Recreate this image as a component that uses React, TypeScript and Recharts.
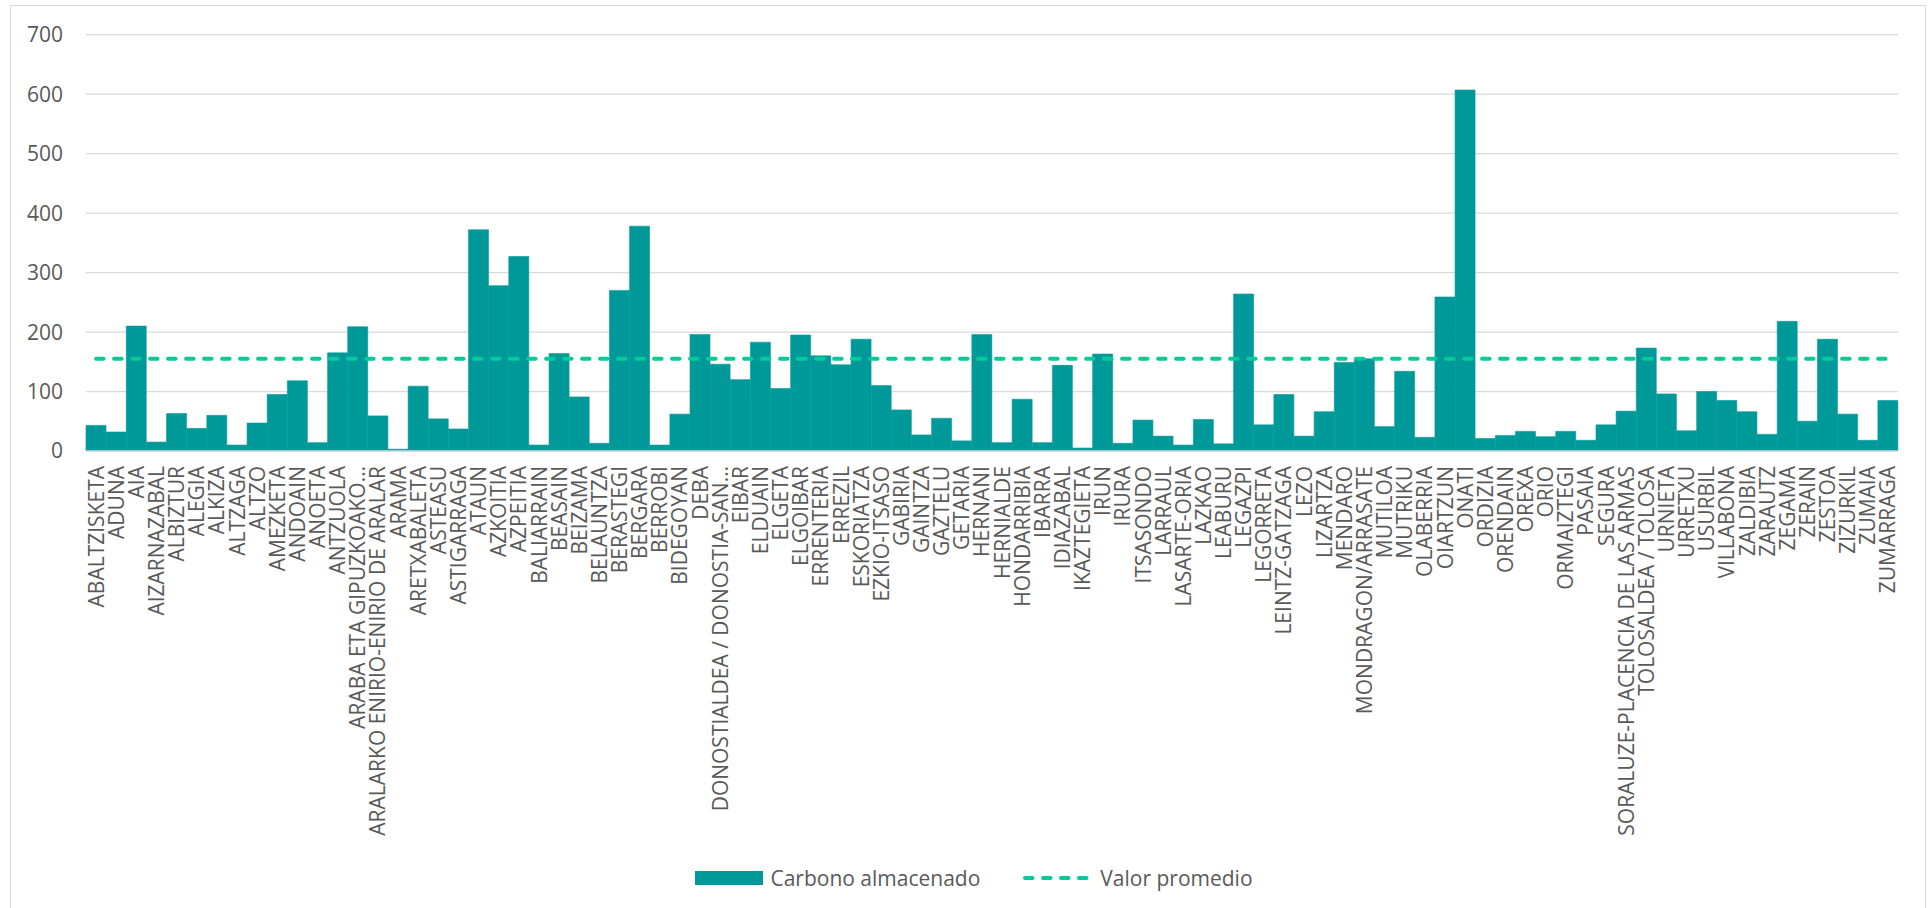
import React from 'react';
import { ComposedChart, Bar, Line, XAxis, YAxis, CartesianGrid, Legend } from 'recharts';

const municipios: string[] = [
  'ABALTZISKETA', 'ADUNA', 'AIA', 'AIZARNAZABAL', 'ALBIZTUR', 'ALEGIA', 'ALKIZA', 'ALTZAGA', 'ALTZO', 'AMEZKETA',
  'ANDOAIN', 'ANOETA', 'ANTZUOLA', 'ARABA ETA GIPUZKOAKO…', 'ARALARKO ENIRIO-ENIRIO DE ARALAR', 'ARAMA', 'ARETXABALETA', 'ASTEASU', 'ASTIGARRAGA', 'ATAUN',
  'AZKOITIA', 'AZPEITIA', 'BALIARRAIN', 'BEASAIN', 'BEIZAMA', 'BELAUNTZA', 'BERASTEGI', 'BERGARA', 'BERROBI', 'BIDEGOYAN',
  'DEBA', 'DONOSTIALDEA / DONOSTIA-SAN…', 'EIBAR', 'ELDUAIN', 'ELGETA', 'ELGOIBAR', 'ERRENTERIA', 'ERREZIL', 'ESKORIATZA', 'EZKIO-ITSASO',
  'GABIRIA', 'GAINTZA', 'GAZTELU', 'GETARIA', 'HERNANI', 'HERNIALDE', 'HONDARRIBIA', 'IBARRA', 'IDIAZABAL', 'IKAZTEGIETA',
  'IRUN', 'IRURA', 'ITSASONDO', 'LARRAUL', 'LASARTE-ORIA', 'LAZKAO', 'LEABURU', 'LEGAZPI', 'LEGORRETA', 'LEINTZ-GATZAGA',
  'LEZO', 'LIZARTZA', 'MENDARO', 'MONDRAGON/ARRASATE', 'MUTILOA', 'MUTRIKU', 'OLABERRIA', 'OIARTZUN', 'ONATI', 'ORDIZIA',
  'ORENDAIN', 'OREXA', 'ORIO', 'ORMAIZTEGI', 'PASAIA', 'SEGURA', 'SORALUZE-PLACENCIA DE LAS ARMAS', 'TOLOSALDEA / TOLOSA', 'URNIETA', 'URRETXU',
  'USURBIL', 'VILLABONA', 'ZALDIBIA', 'ZARAUTZ', 'ZEGAMA', 'ZERAIN', 'ZESTOA', 'ZIZURKIL', 'ZUMAIA', 'ZUMARRAGA',
];

const carbonoAlmacenado: number[] = [
  43, 32, 210, 15, 63, 38, 60, 10, 47, 95,
  118, 14, 165, 209, 59, 3, 109, 54, 37, 372,
  278, 327, 10, 164, 91, 13, 270, 378, 10, 62,
  196, 146, 120, 183, 105, 195, 160, 145, 188, 110,
  69, 27, 55, 17, 196, 14, 87, 14, 144, 5,
  163, 13, 52, 25, 10, 53, 12, 264, 44, 95,
  25, 66, 149, 155, 41, 134, 23, 259, 607, 21,
  26, 33, 24, 33, 18, 44, 67, 173, 96, 34,
  100, 85, 66, 28, 218, 50, 188, 62, 18, 85,
];

const valorPromedio = 155;
const yTicks: number[] = [0, 100, 200, 300, 400, 500, 600, 700];

const data = municipios.map((name, i) => ({
  name,
  carbono: carbonoAlmacenado[i],
  promedio: valorPromedio,
}));

const FONT = "'Open Sans', sans-serif";
const TEXT = '#595959';
const BAR = '#009999';
const AVG = '#00CC99';

const XTick = (props: any) => {
  const { x, y, payload } = props;
  return (
    <text
      transform={`translate(${x},${y + 15}) rotate(-90)`}
      x={0}
      y={0}
      dy="0.36em"
      textAnchor="end"
      fontSize={21}
      fill={TEXT}
      fontFamily={FONT}
    >
      {payload.value}
    </text>
  );
};

const LegendContent = () => (
  <div
    style={{
      display: 'flex',
      justifyContent: 'center',
      alignItems: 'center',
      fontFamily: FONT,
      fontSize: 21,
      color: TEXT,
      height: 28,
      whiteSpace: 'nowrap',
    }}
  >
    <span style={{ display: 'inline-block', width: 68, height: 14, background: BAR, marginRight: 7 }} />
    <span>Carbono almacenado</span>
    <svg width={69} height={14} style={{ marginLeft: 43, marginRight: 8 }}>
      <line x1={2} y1={7} x2={67} y2={7} stroke={AVG} strokeWidth={4} strokeDasharray="7.5 10.5" strokeLinecap="round" />
    </svg>
    <span>Valor promedio</span>
  </div>
);

export default function App() {
  return (
    <div style={{ position: 'absolute', left: 0, top: 0, width: 1930, height: 908, overflow: 'hidden', background: '#fff' }}>
      <div
        style={{
          position: 'absolute',
          left: 10,
          top: 5,
          width: 1916,
          height: 920,
          border: '1.3px solid #D9D9D9',
          boxSizing: 'border-box',
        }}
      />
      <div style={{ position: 'absolute', left: 0, top: 0 }}>
        <ComposedChart
          width={1930}
          height={908}
          data={data}
          margin={{ top: 34.7, right: 32, left: 0, bottom: 77 }}
          barCategoryGap={0}
          barGap={0}
        >
          <CartesianGrid vertical={false} stroke="#D9D9D9" strokeWidth={1.3} />
          <XAxis
            dataKey="name"
            interval={0}
            height={380}
            tickLine={false}
            tickSize={0}
            tickMargin={0}
            axisLine={{ stroke: '#D9D9D9', strokeWidth: 1.3 }}
            tick={<XTick />}
          />
          <YAxis
            width={86}
            domain={[0, 700]}
            ticks={yTicks}
            allowDataOverflow
            axisLine={false}
            tickLine={false}
            tickSize={0}
            tickMargin={23}
            tick={{ fontSize: 21, fill: TEXT, fontFamily: FONT }}
          />
          <Bar
            dataKey="carbono"
            name="Carbono almacenado"
            fill={BAR}
            stroke={BAR}
            strokeWidth={0.6}
            isAnimationActive={false}
          />
          <Line
            dataKey="promedio"
            name="Valor promedio"
            stroke={AVG}
            strokeWidth={4}
            strokeDasharray="7.5 10.5"
            strokeLinecap="round"
            dot={false}
            activeDot={false}
            isAnimationActive={false}
          />
          <Legend
            layout="horizontal"
            verticalAlign="middle"
            align="center"
            content={() => <LegendContent />}
            wrapperStyle={{ top: 864, left: 9, width: 1930, height: 28 }}
          />
        </ComposedChart>
      </div>
    </div>
  );
}
